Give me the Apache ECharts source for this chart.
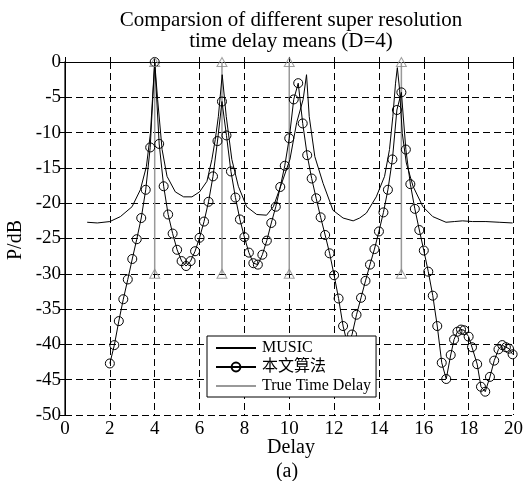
<!DOCTYPE html>
<html>
<head>
<meta charset="utf-8">
<script src="https://cdn.jsdelivr.net/npm/echarts@6/dist/echarts.min.js"></script>
<style>
  html, body { margin: 0; padding: 0; background: #fff; }
  #chart { width: 526px; height: 481px; }
</style>
</head>
<body>
<div id="chart"></div>
<script>
// MUSIC 谱（实线）
var musicX = [0.99, 1.44, 2.0, 2.47, 2.99, 3.36, 3.63, 3.81, 3.9, 4.0, 4.13, 4.33, 4.55, 4.92, 5.29, 5.66, 6.0, 6.33, 6.55, 6.7, 6.84, 7.01, 7.19, 7.44, 7.73, 8.1, 8.55, 8.99, 9.29, 9.66, 10.03, 10.33, 10.62, 10.77, 10.89, 11.14, 11.51, 11.95, 12.4, 12.85, 13.14, 13.44, 13.88, 14.25, 14.47, 14.62, 14.74, 14.82, 14.92, 15.04, 15.22, 15.52, 15.96, 16.4, 16.99, 17.36, 17.73, 18.17, 18.77, 19.36, 19.96];
var musicDb = [-22.7, -22.8, -22.6, -21.9, -20.5, -18.1, -14.8, -10.1, -5.3, 0, -5.3, -12.4, -16.2, -18.4, -19.1, -19.1, -18.4, -16.9, -13.8, -11.0, -7.7, -1.8, -7.7, -13.8, -17.6, -20.5, -21.6, -21.7, -20.5, -17.2, -13.8, -8.6, -5.3, -1.8, -7.7, -13.4, -17.2, -21.0, -22.1, -22.5, -22.1, -21.4, -19.1, -16.2, -12.4, -7.7, -3.0, -0.8, -3.9, -10.1, -14.3, -17.6, -20.5, -21.9, -22.7, -22.6, -22.5, -22.6, -22.6, -22.7, -22.8];

// 本文算法（带圆圈）
var oursX = [2.0, 2.2, 2.4, 2.6, 2.8, 3.0, 3.2, 3.4, 3.6, 3.8, 4.0, 4.2, 4.4, 4.6, 4.8, 5.0, 5.2, 5.4, 5.6, 5.8, 6.0, 6.2, 6.4, 6.6, 6.8, 7.0, 7.2, 7.4, 7.6, 7.8, 8.0, 8.2, 8.4, 8.6, 8.8, 9.0, 9.2, 9.4, 9.6, 9.8, 10.0, 10.2, 10.4, 10.6, 10.8, 11.0, 11.2, 11.4, 11.6, 11.8, 12.0, 12.2, 12.4, 12.6, 12.8, 13.0, 13.2, 13.4, 13.6, 13.8, 14.0, 14.2, 14.4, 14.6, 14.8, 15.0, 15.2, 15.4, 15.6, 15.8, 16.0, 16.2, 16.4, 16.6, 16.8, 17.0, 17.2, 17.35, 17.5, 17.66, 17.8, 18.0, 18.15, 18.38, 18.55, 18.74, 18.95, 19.14, 19.33, 19.5, 19.66, 19.8, 19.96];
var oursDb = [-42.7, -40.1, -36.7, -33.6, -30.8, -27.9, -25.1, -22.1, -18.1, -12.1, 0, -11.6, -17.6, -21.6, -24.3, -26.6, -28.2, -28.9, -28.2, -26.8, -24.9, -22.6, -19.8, -16.2, -11.2, -5.6, -10.4, -15.5, -19.2, -22.3, -24.8, -27.0, -28.5, -28.7, -27.3, -25.3, -22.8, -20.5, -17.7, -14.7, -10.8, -5.3, -3.0, -8.7, -13.2, -16.5, -19.3, -22.0, -24.5, -27.1, -30.2, -33.5, -37.4, -40.0, -38.6, -35.8, -33.4, -31.0, -28.7, -26.5, -24.0, -21.3, -18.1, -13.8, -6.8, -4.3, -12.4, -17.3, -20.8, -23.8, -26.7, -29.7, -33.1, -37.4, -42.6, -44.9, -41.5, -39.3, -38.2, -37.9, -38.0, -38.9, -40.4, -42.8, -46.0, -46.7, -44.6, -42.3, -40.7, -40.1, -40.4, -40.6, -41.4];

// 真实时延
var trueDelays = [4, 7, 10, 15];
var trueTop = 0;
var trueBottom = -30;

var xTicks = { min: 0, max: 20, step: 2 };
var yTicks = { min: -50, max: 0, step: 5 };

var serif = 'Liberation Serif, "Times New Roman", "Noto Sans CJK SC", serif';

function zip(xs, ys) {
  return xs.map(function (x, i) { return [x, ys[i]]; });
}

var series = [
  {
    name: 'MUSIC',
    type: 'line',
    data: zip(musicX, musicDb),
    symbol: 'none',
    lineStyle: { color: '#000', width: 1 },
    itemStyle: { color: '#000' },
    z: 3
  },
  {
    name: '本文算法',
    type: 'line',
    data: zip(oursX, oursDb),
    symbol: 'circle',
    symbolSize: 9,
    showAllSymbol: true,
    lineStyle: { color: '#000', width: 1 },
    itemStyle: { color: 'rgba(0,0,0,0)', borderColor: '#000', borderWidth: 1 },
    z: 3
  }
];

// 每个时延一条竖线
trueDelays.forEach(function (d) {
  series.push({
    name: 'True Time Delay',
    type: 'line',
    data: [[d, trueBottom], [d, trueTop]],
    symbol: 'none',
    lineStyle: { color: '#999', width: 1.5 },
    itemStyle: { color: '#999' },
    z: 2
  });
});

// 两端的三角形
var triPts = [];
trueDelays.forEach(function (d) {
  triPts.push([d, trueBottom]);
  triPts.push([d, trueTop]);
});
series.push({
  name: 'marks',
  type: 'scatter',
  data: triPts,
  symbol: 'triangle',
  symbolSize: [10, 9],
  itemStyle: { color: 'rgba(255,255,255,0)', borderColor: '#888', borderWidth: 1 },
  z: 4
});

var chart = echarts.init(document.getElementById('chart'));
chart.setOption({
  animation: false,
  backgroundColor: '#fff',
  grid: { left: 65, right: 12, top: 62, bottom: 66 },
  legend: {
    data: [
      { name: 'MUSIC', itemStyle: { opacity: 0 } },
      { name: '本文算法' },
      { name: 'True Time Delay', itemStyle: { opacity: 0 } }
    ],
    orient: 'vertical',
    left: 207,
    top: 336,
    padding: [4, 5, 3, 8],
    itemGap: 3,
    itemWidth: 40,
    itemHeight: 11,
    backgroundColor: '#fff',
    borderColor: '#000',
    borderWidth: 1,
    borderRadius: 0,
    selectedMode: false,
    textStyle: { fontFamily: serif, fontSize: 16, color: '#000', padding: [0, 0, 0, 1] },
    z: 10
  },
  xAxis: [
    {
      type: 'value',
      min: xTicks.min, max: xTicks.max, interval: xTicks.step,
      axisLine: { lineStyle: { color: '#000', width: 1 } },
      axisTick: { inside: true, length: 5, lineStyle: { color: '#000' } },
      axisLabel: { fontFamily: serif, fontSize: 19, color: '#000', margin: 5 },
      splitLine: { show: true, lineStyle: { color: '#000', type: [7, 4], width: 1 } }
    },
    {
      type: 'value', position: 'top',
      min: xTicks.min, max: xTicks.max, interval: xTicks.step,
      axisLine: { lineStyle: { color: '#000', width: 1 } },
      axisTick: { inside: true, length: 5, lineStyle: { color: '#000' } },
      axisLabel: { show: false },
      splitLine: { show: false }
    }
  ],
  yAxis: [
    {
      type: 'value',
      min: yTicks.min, max: yTicks.max, interval: yTicks.step,
      axisLine: { show: true, lineStyle: { color: '#333', width: 1.5 } },
      axisTick: { show: true, inside: true, length: 5, lineStyle: { color: '#000' } },
      axisLabel: { fontFamily: serif, fontSize: 19, color: '#000', margin: 4 },
      splitLine: { show: true, lineStyle: { color: '#000', type: [7, 4], width: 1 } }
    },
    {
      type: 'value', position: 'right',
      min: yTicks.min, max: yTicks.max, interval: yTicks.step,
      axisLine: { show: true, lineStyle: { color: '#000', width: 1 } },
      axisTick: { show: true, inside: true, length: 5, lineStyle: { color: '#000' } },
      axisLabel: { show: false },
      splitLine: { show: false }
    }
  ],
  graphic: [
    { type: 'text', x: 291, y: 20, style: { text: 'Comparsion of different super resolution', font: '21px ' + serif, fill: '#000', textAlign: 'center', textVerticalAlign: 'middle' } },
    { type: 'text', x: 291, y: 41, style: { text: 'time delay means (D=4)', font: '21px ' + serif, fill: '#000', textAlign: 'center', textVerticalAlign: 'middle' } },
    { type: 'text', x: 291, y: 448, style: { text: 'Delay', font: '20px ' + serif, fill: '#000', textAlign: 'center', textVerticalAlign: 'middle' } },
    { type: 'text', x: 287, y: 472, style: { text: '(a)', font: '20px ' + serif, fill: '#000', textAlign: 'center', textVerticalAlign: 'middle' } },
    { type: 'text', x: 16, y: 240, rotation: Math.PI / 2, style: { text: 'P/dB', font: '20px ' + serif, fill: '#000', textAlign: 'center', textVerticalAlign: 'middle' } }
  ],
  series: series
});
</script>
</body>
</html>
